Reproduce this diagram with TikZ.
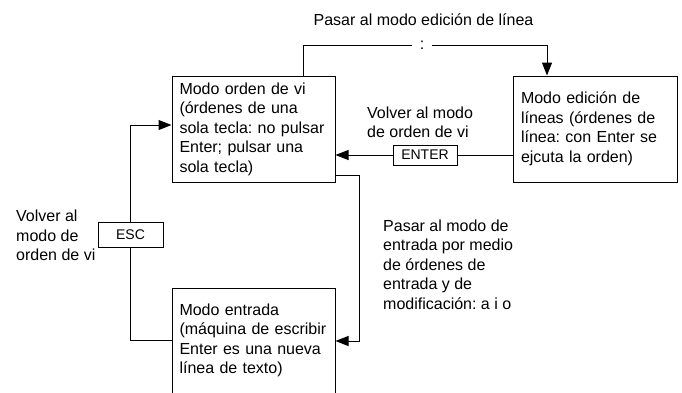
\documentclass[tikz,border=0pt]{standalone}
\usepackage{fontspec}
\setmainfont{Liberation Sans}
\usetikzlibrary{arrows.meta}
\frenchspacing
\tikzset{
  mainfont/.style={font={\fontsize{16}{19.5}\selectfont}},
  keyfont/.style={font={\fontsize{14}{16}\selectfont}},
  modebox/.style={draw, line width=1pt, rectangle, mainfont, align=left,
    text width=148pt, inner xsep=7.5pt, inner ysep=0pt, minimum width=163pt},
  keybox/.style={draw, line width=1pt, rectangle, keyfont, fill=white,
    inner sep=0pt},
  lbl/.style={mainfont, align=left, inner sep=0pt},
  conn/.style={line width=1pt},
  arr/.style={conn, -{Triangle[length=13pt,width=10pt]}}
}
\begin{document}
\begin{tikzpicture}[x=1pt,y=-1pt]
\useasboundingbox (0,0) rectangle (682,392);
% mode boxes
\node[modebox, minimum height=106pt] (A) at (253.5,129)
  {Modo orden de vi\\(órdenes de una\\sola tecla: no pulsar\\Enter; pulsar una\\sola tecla)};
\node[modebox, minimum height=106pt, minimum width=164pt] (C) at (595,129)
  {Modo edición de\\líneas (órdenes de\\línea: con Enter se\\ejcuta la orden)};
\node[modebox, minimum height=105pt] (B) at (253.5,340.5)
  {Modo entrada\\(máquina de escribir\\Enter es una nueva\\línea de texto)};
% labels
\node[lbl] (title) at (423.5,19.5) {Pasar al modo edición de línea};
\node[lbl, anchor=west] (volver1) at (367,122.5) {Volver al modo\\de orden de vi};
\node[lbl, anchor=west] (volver2) at (16,235.5) {Volver al\\modo de\\orden de vi};
\node[lbl, anchor=west] (pasar) at (383,264.5) {Pasar al modo de\\entrada por medio\\de órdenes de\\entrada y de\\modificación: a i o};
% top connector
\coordinate (t1) at (303,45);
\coordinate (t2) at (547,45);
\node[mainfont, fill=white, inner xsep=7.5pt, inner ysep=2pt] (colon) at (422,45) {:};
\draw[conn] (t1 |- A.north) -- (t1) -- (colon.west);
\draw[arr] (colon.east) -- (t2) -- (t2 |- C.north);
% ENTER connector
\node[keybox, minimum width=64pt, minimum height=20pt] (enter) at (425,155) {ENTER};
\draw[conn] (C.west |- enter) -- (enter.east);
\draw[arr] (enter.west) -- (A.east |- enter);
% A to B connector
\coordinate (r1) at (359,175);
\coordinate (r2) at (359,341);
\draw[arr] (A.east |- r1) -- (r1) -- (r2) -- (B.east |- r2);
% ESC connector
\coordinate (l1) at (130.5,125);
\coordinate (l2) at (130.5,340);
\draw[arr] (B.west |- l2) -- (l2) -- (l1) -- (A.west |- l1);
\node[keybox, minimum width=65pt, minimum height=25pt] (esc) at (130.5,234.5) {ESC};
\end{tikzpicture}
\end{document}
